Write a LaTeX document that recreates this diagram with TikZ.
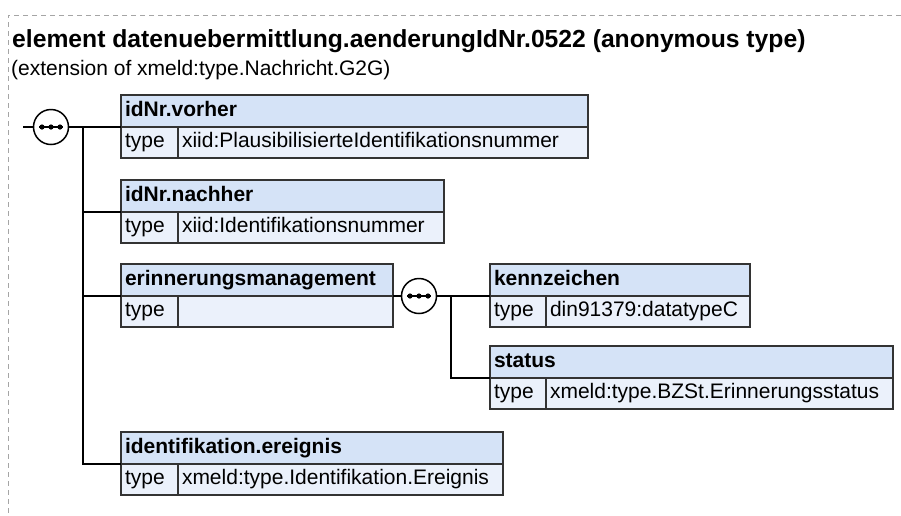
\documentclass[tikz,border=0pt]{standalone}
\usepackage{fontspec}
\setmainfont{Liberation Sans}
\usetikzlibrary{positioning}
\definecolor{hdrblue}{RGB}{213,227,247}
\definecolor{rowblue}{RGB}{235,241,251}
\definecolor{frame}{RGB}{165,165,165}

\begin{document}
\begin{tikzpicture}[x=1pt, y=-1pt,
    elemcell/.style={draw=black!80, line width=1.3pt, outer sep=0pt, inner xsep=4pt, inner ysep=0pt, text height=15pt, text depth=5pt, align=left, anchor=north west, font=\fontsize{21}{25}\selectfont},
    elemhead/.style={elemcell, fill=hdrblue, minimum height=32pt, font=\bfseries\fontsize{21}{25}\selectfont},
    elemrow/.style={elemcell, fill=rowblue, minimum height=31pt},
    conn/.style={line width=2pt},
    compositor/.style={circle, draw, line width=1.5pt, fill=white, minimum size=35pt, inner sep=0pt, outer sep=0pt,
        path picture={
            \draw[black, line width=1.5pt, shift={(path picture bounding box.center)}] (-12,0) -- (12,0);
            \foreach \dx in {-9,0,9}
                \fill[black, shift={(path picture bounding box.center)}] (\dx,0) circle (2.6pt);
        }}
]
    \useasboundingbox (0,0) rectangle (901,515);
    \draw[frame, dash pattern=on 5pt off 4pt, line width=1pt] (901,15) -- (8,15) -- (8,515);

    % heading
    \node[anchor=base west, inner sep=0pt, font=\bfseries\fontsize{24.7}{28}\selectfont] (title) at (12,47) {element datenuebermittlung.aenderungIdNr.0522 (anonymous type)};
    \node[anchor=base west, inner sep=0pt, font=\fontsize{21}{25}\selectfont] (subtitle) at (11,75) {(extension of xmeld:type.Nachricht.G2G)};

    % outer sequence
    \coordinate (entry) at (23,127);
    \node[compositor] (seq) at (51,127) {};
    \coordinate (fork) at (83,127);

    \node[elemhead, text width=459pt] (vorher) at (121,95) {idNr.vorher};
    \node[elemrow, text width=49pt] (vorherT) at (vorher.south west) {type};
    \node[elemrow, text width=402pt] (vorherV) at (vorherT.north east) {xiid:PlausibilisierteIdentifikationsnummer};

    \node[elemhead, text width=315pt] (nachher) at (121,180) {idNr.nachher};
    \node[elemrow, text width=49pt] (nachherT) at (nachher.south west) {type};
    \node[elemrow, text width=258pt] (nachherV) at (nachherT.north east) {xiid:Identifikationsnummer};

    \node[elemhead, text width=264pt] (erin) at (121,264) {erinnerungsmanagement};
    \node[elemrow, text width=49pt] (erinT) at (erin.south west) {type};
    \node[elemrow, text width=207pt] (erinV) at (erinT.north east) {};

    \node[elemhead, text width=374pt] (ident) at (121,432) {identifikation.ereignis};
    \node[elemrow, text width=49pt] (identT) at (ident.south west) {type};
    \node[elemrow, text width=317pt] (identV) at (identT.north east) {xmeld:type.Identifikation.Ereignis};

    % inner sequence
    \node[compositor] (seq2) at (419,296) {};
    \coordinate (fork2) at (451,296);

    \node[elemhead, text width=252pt] (kenn) at (490,264) {kennzeichen};
    \node[elemrow, text width=48pt] (kennT) at (kenn.south west) {type};
    \node[elemrow, text width=196pt] (kennV) at (kennT.north east) {din91379:datatypeC};

    \node[elemhead, text width=395pt] (status) at (490,346) {status};
    \node[elemrow, text width=48pt] (statusT) at (status.south west) {type};
    \node[elemrow, text width=339pt] (statusV) at (statusT.north east) {xmeld:type.BZSt.Erinnerungsstatus};

    \draw[conn] (entry) -- (seq);
    \draw[conn] (seq) -- (vorher.south west);
    \draw[conn] (fork) |- (nachher.south west);
    \draw[conn] (fork) |- (erin.south west);
    \draw[conn] (fork) |- (ident.south west);
    \draw[conn] (erin.south east) -- (seq2);
    \draw[conn] (seq2) -- (kenn.south west);
    \draw[conn] (fork2) |- (status.south west);
\end{tikzpicture}
\end{document}
